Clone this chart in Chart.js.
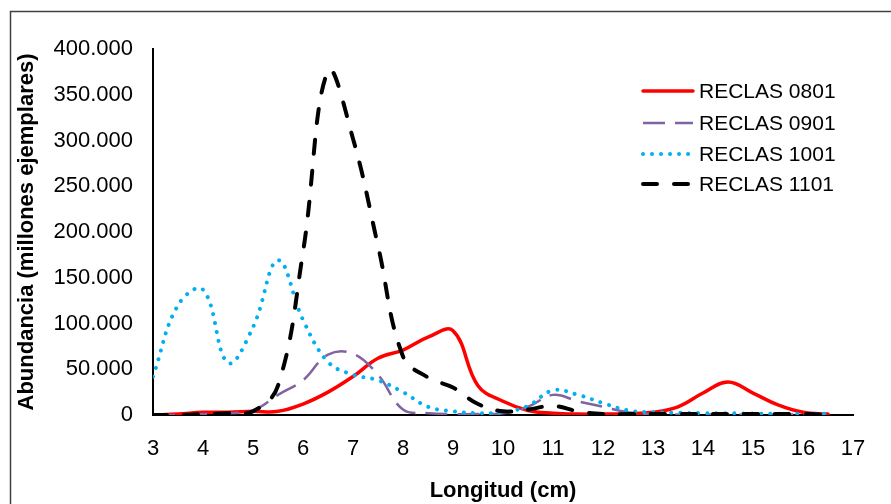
<!DOCTYPE html>
<html>
<head>
<meta charset="utf-8">
<script src="https://cdn.jsdelivr.net/npm/chart.js@4.4.0/dist/chart.umd.min.js"></script>
<style>
html,body{margin:0;padding:0;background:#fff;}
#wrap{position:relative;width:891px;height:504px;}
canvas{display:block;}
</style>
</head>
<body>
<div id="wrap"><canvas id="c" width="891" height="504"></canvas></div>
<script>
// Length classes (cm)
const lengths = [3,3.5,4,4.5,5,5.5,6,6.5,7,7.5,8,8.5,9,9.5,10,10.5,11,11.5,12,12.5,13,13.5,14,14.5,15,15.5,16,16.5];
// Abundance (millions of individuals)
const reclas0801 = [0,1000,3000,3000,4000,4000,12000,25000,42000,62000,71000,85000,92000,32000,15000,5000,2000,1000,1000,1500,3000,9000,24000,36000,24000,11000,3000,1000];
const reclas0901 = [0,0,1000,2000,5000,22000,38000,66000,67000,44000,6000,2000,1000,1000,2000,9000,22000,15000,9000,3000,1000,500,500,500,500,500,500,500];
const reclas1001 = [42000,120000,137000,57000,96000,169000,104000,58000,44000,38000,25000,9000,4000,2000,3000,10000,27000,22000,13000,5000,3000,2500,2000,2000,1500,1500,1500,1500];
const reclas1101 = [0,0,1000,2000,4000,32000,178000,376000,302000,185000,64000,41000,30000,12000,4000,6000,10000,4000,1000,1000,1000,1000,1000,1000,1000,1000,1000,500];
const seriesNames = ['RECLAS 0801','RECLAS 0901','RECLAS 1001','RECLAS 1101'];
const xTicks = [3,4,5,6,7,8,9,10,11,12,13,14,15,16,17];
const yTickLabels = ['0','50.000','100.000','150.000','200.000','250.000','300.000','350.000','400.000'];

const styles = [
  {color:'#FF0000', width:3.5, dash:[], cap:'round'},
  {color:'#8064A2', width:2.5, dash:[22,10], cap:'butt'},
  {color:'#00B0F0', width:4, dash:[0.01,9], cap:'round'},
  {color:'#000000', width:4, dash:[14,17], cap:'round'}
];
const allSeries = [reclas0801, reclas0901, reclas1001, reclas1101];

const datasets = allSeries.map((vals,i)=>({
  label: seriesNames[i],
  data: vals.map((v,j)=>({x:lengths[j], y:v})),
  borderColor: styles[i].color,
  backgroundColor: styles[i].color,
  borderWidth: styles[i].width,
  borderDash: styles[i].dash,
  borderCapStyle: styles[i].cap,
  borderJoinStyle: 'round',
  pointRadius: 0,
  tension: 0.4,
  fill: false,
  order: 3 - i
}));

const FONT = 'Liberation Sans, Arial, sans-serif';

const frameAndLegend = {
  id: 'frameAndLegend',
  afterDraw(chart){
    const ctx = chart.ctx;
    ctx.save();
    ctx.strokeStyle = '#404040';
    ctx.lineWidth = 1.5;
    ctx.strokeRect(10.5, 11.5, 1000, 1000);
    // legend
    const rows = [91, 123, 154, 184];
    ctx.font = '21px ' + FONT;
    ctx.textBaseline = 'middle';
    ctx.textAlign = 'left';
    rows.forEach((y,i)=>{
      const s = styles[i];
      ctx.beginPath();
      ctx.strokeStyle = s.color;
      ctx.lineWidth = s.width;
      ctx.setLineDash(s.dash);
      ctx.lineCap = s.cap;
      ctx.moveTo(643, y);
      ctx.lineTo(693, y);
      ctx.stroke();
      ctx.setLineDash([]);
      ctx.fillStyle = '#000';
      ctx.fillText(seriesNames[i], 699, y + 1);
    });
    ctx.restore();
  }
};

new Chart(document.getElementById('c'), {
  type: 'line',
  data: { datasets },
  options: {
    responsive: false,
    animation: false,
    events: [],
    layout: { padding: { left: 10, right: 38, top: 49, bottom: 0 } },
    plugins: { legend: { display: false }, tooltip: { enabled: false } },
    scales: {
      x: {
        type: 'linear', min: 3, max: 17,
        afterBuildTicks: s => { s.ticks = xTicks.map(v=>({value:v})); },
        grid: { display: false, drawTicks: false },
        border: { display: true, color: '#000', width: 2 },
        ticks: { color: '#000', font: { family: FONT, size: 22 }, padding: 21, maxRotation: 0, autoSkip: false },
        title: { display: true, text: 'Longitud (cm)', color: '#000', font: { family: FONT, size: 22, weight: 'bold' }, padding: { top: 8, bottom: 0 } },
        afterFit: s => { s.height = 89; }
      },
      y: {
        min: 0, max: 400000,
        afterBuildTicks: s => { s.ticks = yTickLabels.map((t,i)=>({value:i*50000})); },
        grid: { display: false, drawTicks: false },
        border: { display: true, color: '#000', width: 2 },
        ticks: { color: '#000', font: { family: FONT, size: 22 }, padding: 20, autoSkip: false,
                 callback: (v, i) => yTickLabels[i] },
        title: { display: true, text: 'Abundancia (millones ejemplares)', color: '#000', font: { family: FONT, size: 22, weight: 'bold' }, padding: { top: 4, bottom: 4 } },
        afterFit: s => { s.width = 143; }
      }
    }
  },
  plugins: [frameAndLegend]
});
</script>
</body>
</html>
